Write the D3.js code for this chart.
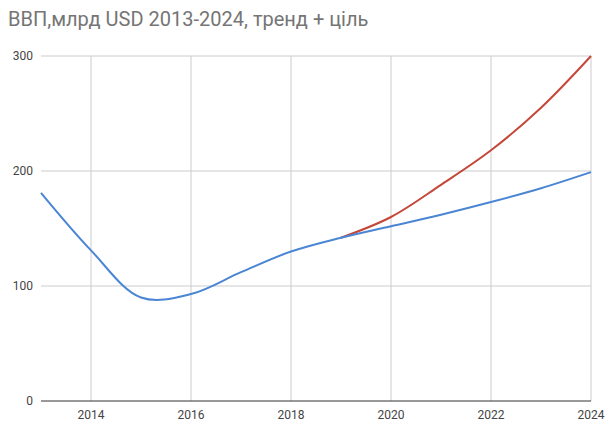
<!DOCTYPE html><html><head><meta charset="utf-8"><script src="https://cdn.jsdelivr.net/npm/d3@7"></script>
<style>body{margin:0;background:#fff}</style></head><body><svg id="c" width="612" height="438"></svg>
<script>
const years=[2013,2014,2015,2016,2017,2018,2019,2020,2021,2022,2023,2024];
const trend=[181,131,90,93,112,130,142,152,162,173,185,199];
const targetYears=[2019,2020,2021,2022,2023,2024];
const target=[142,160,188,218,255,300];
const xTicks=[2014,2016,2018,2020,2022,2024];
const yTicks=[0,100,200,300];
const svg=d3.select("#c");
const x=d3.scaleLinear().domain([2013,2024]).range([41,591]);
const y=d3.scaleLinear().domain([0,300]).range([401,56]);
const g=svg.append("g");
g.selectAll(".v").data(xTicks).join("line").attr("x1",d=>x(d)).attr("x2",d=>x(d)).attr("y1",56).attr("y2",401).attr("stroke","#ccc");
g.selectAll(".h").data(yTicks).join("line").attr("x1",41).attr("x2",591).attr("y1",d=>y(d)).attr("y2",d=>y(d)).attr("stroke",d=>d==0?"#333":"#ccc");
const ff="Roboto, sans-serif";
g.selectAll(".xl").data(xTicks).join("text").attr("x",d=>x(d)).attr("y",419).attr("text-anchor","middle").attr("font-family",ff).attr("font-size",12).attr("fill","#444").text(d=>d);
g.selectAll(".yl").data(yTicks).join("text").attr("x",33).attr("y",d=>y(d)+4).attr("text-anchor","end").attr("font-family",ff).attr("font-size",12).attr("fill","#444").text(d=>d);
const line=d3.line().x(d=>x(d[0])).y(d=>y(d[1])).curve(d3.curveCatmullRom);
svg.append("path").attr("d",line(targetYears.map((t,i)=>[t,target[i]]))).attr("fill","none").attr("stroke","#c5473a").attr("stroke-width",2);
svg.append("path").attr("d",line(years.map((t,i)=>[t,trend[i]]))).attr("fill","none").attr("stroke","#4a86d4").attr("stroke-width",2);
svg.append("text").attr("x",8).attr("y",26).attr("font-family",ff).attr("font-size",20).attr("fill","#757575").text("ВВП,млрд USD 2013-2024, тренд + ціль");
</script></body></html>
